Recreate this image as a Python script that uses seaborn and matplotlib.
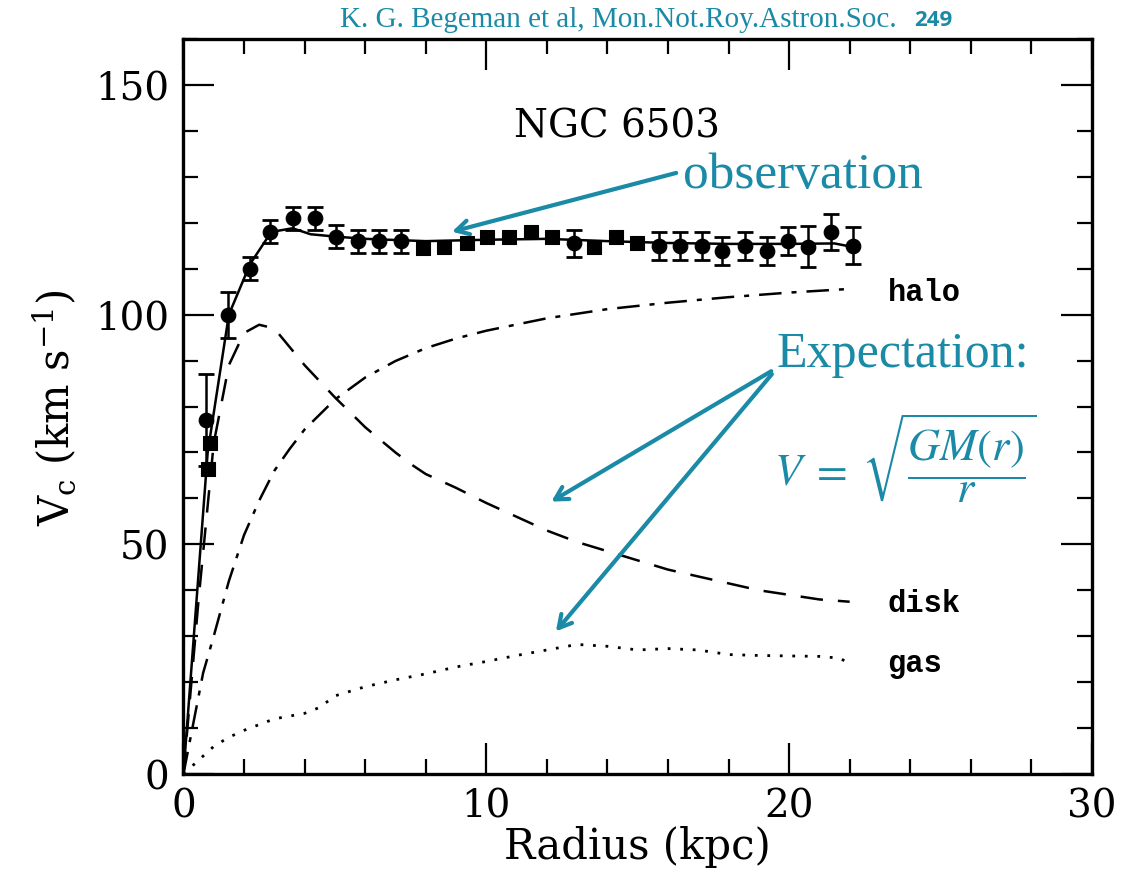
import matplotlib
matplotlib.use('Agg')
import matplotlib.pyplot as plt
from matplotlib.ticker import MultipleLocator
import numpy as np
import pandas as pd
import seaborn as sns

# observed rotation curve (r in kpc, v in km/s)
obs_r = [0.76, 1.48, 2.19, 2.85, 3.62, 4.33, 5.05, 5.76, 6.47, 7.2, 12.9, 15.7,
         16.41, 17.13, 17.8, 18.56, 19.27, 19.96, 20.64, 21.4, 22.1]
obs_v = [77, 100, 110, 118, 121, 121, 117, 116, 116, 116, 115.5, 115,
         115, 115, 113.8, 115, 113.9, 116, 114.8, 118, 115]
obs_err = [10, 5, 2.5, 2.5, 2.5, 2.5, 2.5, 2.5, 2.5, 2.5, 3, 3,
           3, 3, 3, 3, 3, 3, 4.5, 4, 4]
sq_r = [0.8, 0.87, 7.9, 8.6, 9.38, 10.04, 10.76, 11.47, 12.18, 13.56, 14.27, 14.98]
sq_v = [66.5, 72, 114.6, 114.7, 115.7, 116.8, 116.8, 117.9, 116.8, 114.8, 117, 115.7]

# model curves
tot_r = [0, 0.8, 1.5, 2.2, 2.9, 3.6, 4.2, 5, 6, 8, 10, 12, 14, 16, 18, 20, 21.5, 22.2]
tot_v = [0, 70, 100, 111, 118, 118.8, 117.5, 117, 116.5, 116, 116.3, 116.5, 116, 115.6,
         115.4, 115.4, 115.5, 114.6]
disk_r = [0, 0.5, 1.0, 1.5, 2.0, 2.5, 3.0, 4, 5, 6, 7, 7.5, 8, 9, 10, 11, 12, 13, 14,
          15, 16, 17, 18, 19, 20, 21, 22]
disk_v = [0, 38, 72, 89, 96, 97.8, 97, 89, 82, 75.5, 70, 67.5, 65.3, 62.3, 59, 56, 53,
          50.5, 48.5, 46.5, 44.5, 43, 41.5, 40, 39, 38, 37.5]
halo_r = [0, 0.65, 1, 1.5, 2, 2.5, 3, 3.5, 4, 5, 6, 7, 8, 9, 10, 12, 14, 16, 18, 20, 22]
halo_v = [0, 22, 30, 42, 52, 59.5, 66, 70.7, 75, 81.5, 86.3, 89.9, 92.7, 94.8, 96.5,
          99.2, 101.2, 102.6, 103.8, 104.8, 105.6]
gas_r = [0, 0.5, 1, 1.5, 2, 3, 4, 4.5, 5, 6, 7, 8, 9, 10, 11, 12, 13, 14, 15, 16, 17,
         18, 19, 20, 21, 21.7, 22]
gas_v = [0, 3, 6, 8, 9.5, 12, 13.2, 14.5, 17, 19, 20.5, 21.8, 23.3, 24.5, 25.8, 27,
         28.2, 27.8, 27, 27.3, 27, 26, 25.8, 25.7, 25.6, 25.2, 23.8]

teal = '#1a8aa6'

sns.set_style('ticks')
plt.rcParams['font.family'] = ['DejaVu Serif']
plt.rcParams['mathtext.fontset'] = 'dejavuserif'
plt.rcParams['text.color'] = 'black'
plt.rcParams['axes.labelcolor'] = 'black'

fig = plt.figure(figsize=(11.22, 8.7), dpi=100)
ax = fig.add_axes([0.1635, 0.1092, 0.8097, 0.8448])

sns.lineplot(x=tot_r, y=tot_v, ax=ax, color='black', lw=1.8, sort=False)
sns.lineplot(x=disk_r, y=disk_v, ax=ax, color='black', lw=1.8, sort=False
             ).lines[-1].set_dashes([9, 6])
sns.lineplot(x=halo_r, y=halo_v, ax=ax, color='black', lw=1.8, sort=False
             ).lines[-1].set_dashes([9, 4, 2, 4])
sns.lineplot(x=gas_r, y=gas_v, ax=ax, color='black', lw=2.0, sort=False
             ).lines[-1].set_dashes([1, 3.5])

ax.errorbar(obs_r, obs_v, yerr=obs_err, fmt='none', ecolor='black',
            elinewidth=1.8, capsize=6, capthick=2)
sns.scatterplot(x=obs_r, y=obs_v, ax=ax, color='black', marker='o', s=110,
                edgecolor='black', zorder=5)
sns.scatterplot(x=sq_r, y=sq_v, ax=ax, color='black', marker='s', s=95,
                edgecolor='black', zorder=5)

ax.set_xlim(0, 30)
ax.set_ylim(0, 160)
ax.xaxis.set_major_locator(MultipleLocator(10))
ax.xaxis.set_minor_locator(MultipleLocator(2))
ax.yaxis.set_major_locator(MultipleLocator(50))
ax.yaxis.set_minor_locator(MultipleLocator(10))
ax.tick_params(which='both', direction='in', top=True, right=True, width=1.6,
               colors='black', labelsize=28)
ax.tick_params(which='major', length=22, pad=10)
ax.tick_params(which='minor', length=11)
for sp in ax.spines.values():
    sp.set_linewidth(2.4)
    sp.set_color('black')

ax.set_xlabel('Radius (kpc)', fontsize=30, labelpad=0)
ax.set_ylabel(r'V$_{\rm c}$ (km s$^{-1}$)', fontsize=30, labelpad=12)

ax.text(10.9, 141, 'NGC 6503', fontsize=28, va='center', ha='left')
lab_font = dict(family='Liberation Mono', fontweight='bold', fontsize=22,
                va='center', ha='left')
ax.text(23.25, 105, 'halo', **lab_font)
ax.text(23.25, 37.3, 'disk', **lab_font)
ax.text(23.25, 24.2, 'gas', **lab_font)

# teal annotations
arr = dict(arrowstyle='->,head_length=0.9,head_width=0.5', color=teal, lw=3)
ax.annotate('', xy=(8.78, 117.9), xytext=(16.36, 131), arrowprops=arr)
ax.annotate('', xy=(12.07, 59), xytext=(19.49, 88), arrowprops=arr)
ax.annotate('', xy=(12.24, 30.6), xytext=(19.49, 87.5), arrowprops=arr)
ax.text(16.5, 130.5, 'observation', color=teal, fontsize=37,
        family='Liberation Serif', va='center', ha='left')
ax.text(19.6, 91.5, 'Expectation:', color=teal, fontsize=36,
        family='Liberation Serif', va='center', ha='left')
ax.text(23.85, 69, r'$V\;=\;\sqrt{\dfrac{GM(r)}{r}}$', color=teal, fontsize=32,
        math_fontfamily='stix', va='center', ha='center')

fig.text(0.303, 0.977, 'K. G. Begeman et al, Mon.Not.Roy.Astron.Soc.', color=teal,
         fontsize=21, family='Liberation Serif', va='center', ha='left')
fig.text(0.815, 0.977, '249', color=teal, fontsize=16, family='Open Sans',
         fontweight='bold', va='center', ha='left')

fig.savefig('out.png', dpi=100)
